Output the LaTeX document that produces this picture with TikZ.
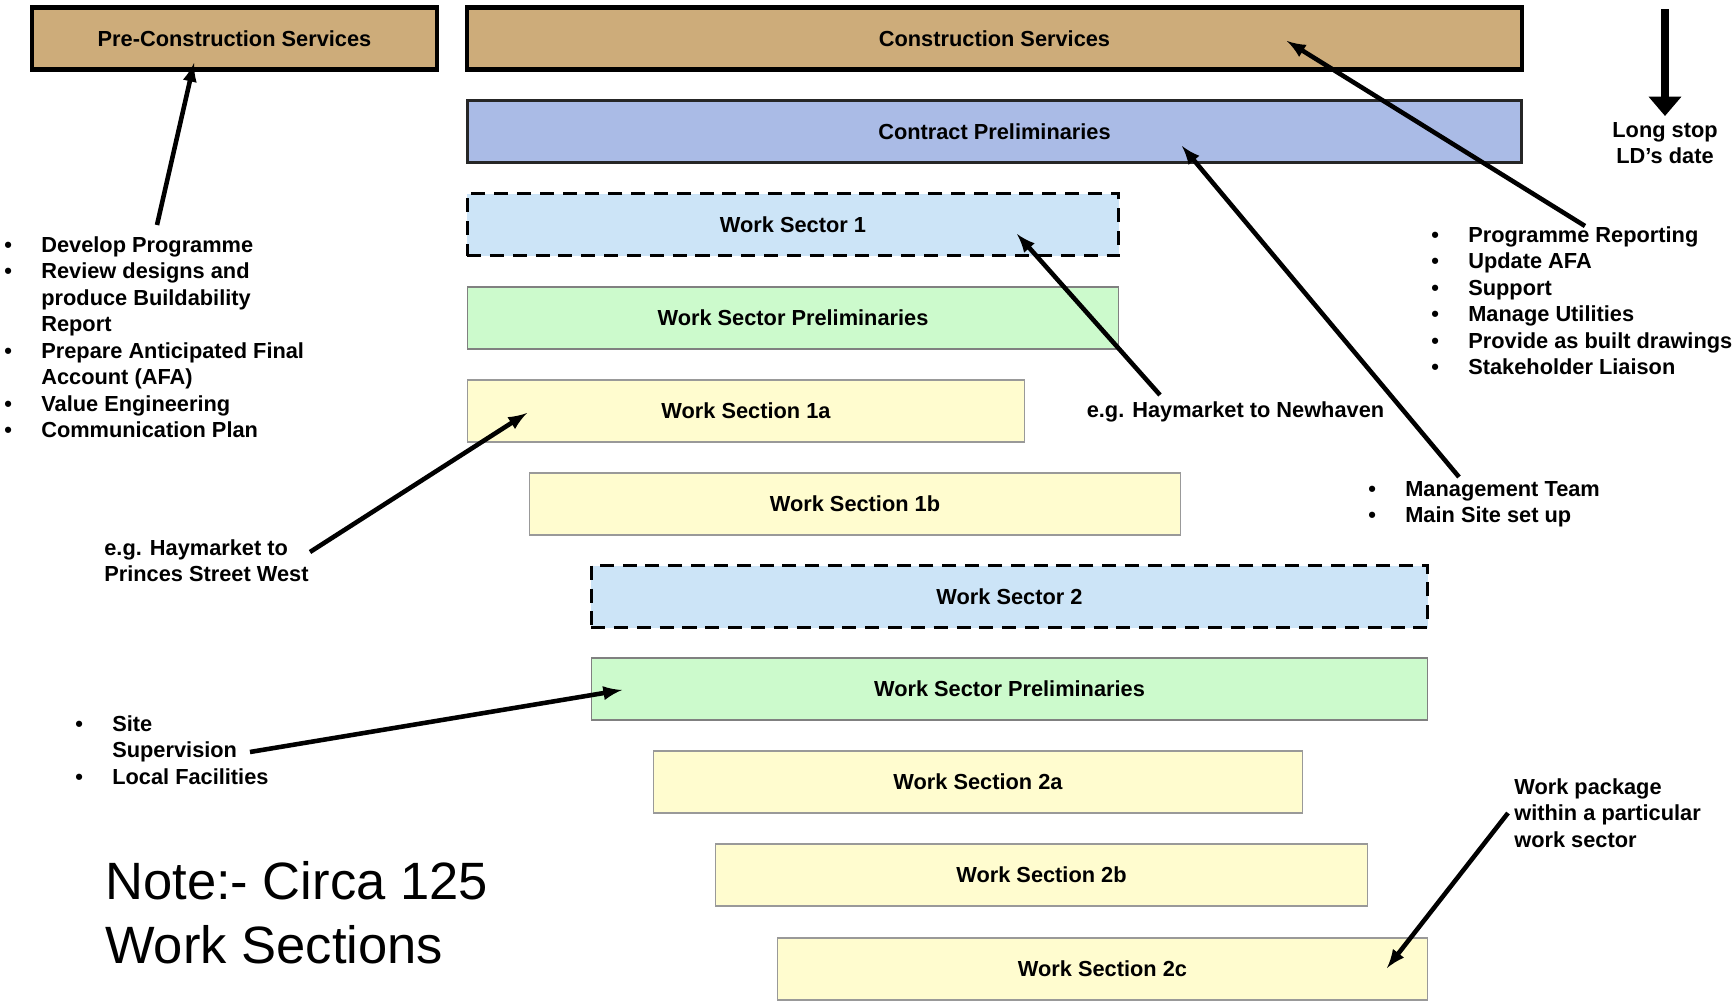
\documentclass[tikz,border=0pt]{standalone}
\usepackage{fontspec}
\setmainfont{Liberation Sans}
\usepackage{xcolor}
\usetikzlibrary{positioning, arrows.meta}

\definecolor{csbrown}{RGB}{205,172,122}
\definecolor{cpblue}{RGB}{170,187,230}
\definecolor{wsblue}{RGB}{204,228,247}
\definecolor{wsgreen}{RGB}{204,250,204}
\definecolor{wsyellow}{RGB}{255,252,207}

\newcommand{\bul}{\makebox[0.74cm][l]{\textbullet}}
\newcommand{\ind}{\hspace*{0.74cm}}

\begin{document}
\begin{tikzpicture}[x=0.02cm, y=-0.02cm,
	bar/.style={minimum height=1.24cm, inner sep=0pt, font=\fontsize{12.4}{15.1}\selectfont\bfseries},
	topbar/.style={bar, draw=black, line width=2.3pt, fill=csbrown},
	sectorbar/.style={bar, draw=black, line width=1.7pt, dash pattern=on 8pt off 5pt, fill=wsblue},
	prelbar/.style={bar, draw=gray, line width=0.6pt, fill=wsgreen},
	sectionbar/.style={bar, draw=gray!80, line width=0.6pt, fill=wsyellow},
	txt/.style={inner sep=0pt, align=left, font=\fontsize{12.4}{15.1}\selectfont\bfseries},
	pointer/.style={line width=2.6pt, -latex}]
	
	\useasboundingbox (0,0) rectangle (1732,1002);
	
	% barras de topo
	\node[topbar, minimum width=8.1cm] (precon) at (234.5,38.5) {Pre-Construction Services};
	\node[topbar, minimum width=21.1cm] (cs) at (994.5,38.5) {Construction Services};
	\node[bar, draw=black!85, line width=1.7pt, fill=cpblue, minimum width=21.1cm] (cp) at (994.5,131.5) {Contract Preliminaries};
	
	% sector 1
	\node[sectorbar, minimum width=13.04cm] (ws1) at (793,224.5) {Work Sector 1};
	\node[prelbar, minimum width=13.04cm] (wsp1) at (793,318) {Work Sector Preliminaries};
	\node[sectionbar, minimum width=11.16cm] (ws1a) at (746,411) {Work Section 1a};
	\node[sectionbar, minimum width=13.04cm] (ws1b) at (855,504) {Work Section 1b};
	
	% sector 2
	\node[sectorbar, minimum width=16.74cm] (ws2) at (1009.5,596.5) {Work Sector 2};
	\node[prelbar, minimum width=16.74cm] (wsp2) at (1009.5,689) {Work Sector Preliminaries};
	\node[sectionbar, minimum width=13.0cm] (ws2a) at (978,782) {Work Section 2a};
	\node[sectionbar, minimum width=13.06cm] (ws2b) at (1041.5,875) {Work Section 2b};
	\node[sectionbar, minimum width=13.02cm] (ws2c) at (1102.5,969) {Work Section 2c};
	
	% textos
	\node[txt, anchor=north west] (prelist) at (4,236) {\bul Develop Programme\\ \bul Review designs and\\ \ind produce Buildability\\ \ind Report\\ \bul Prepare Anticipated Final\\ \ind Account (AFA)\\ \bul Value Engineering\\ \bul Communication Plan};
	\node[txt, anchor=north west] (cslist) at (1431,226) {\bul Programme Reporting\\ \bul Update AFA\\ \bul Support\\ \bul Manage Utilities\\ \bul Provide as built drawings\\ \bul Stakeholder Liaison};
	\node[txt, anchor=north west] (cplist) at (1368,481) {\bul Management Team\\ \bul Main Site set up};
	\node[txt, anchor=north west] (sitelist) at (75,715) {\bul Site\\ \ind Supervision\\ \bul Local Facilities};
	\node[txt, anchor=base] (newhaven) at (1235.5,417) {e.g. Haymarket to Newhaven};
	\node[txt, anchor=north west] (princes) at (104,539) {e.g. Haymarket to\\Princes Street West};
	\node[txt, anchor=north west] (package) at (1514,778) {Work package\\within a particular\\work sector};
	\node[txt, align=center] (ldate) at (1665,143) {Long stop\\LD’s date};
	\node[inner sep=0pt, align=left, anchor=north west, font=\fontsize{29.9}{36.4}\selectfont] (note) at (105,861) {Note:- Circa 125\\Work Sections};
	
	% pontas das setas
	\coordinate (dpTail) at (157,225);
	\coordinate (pcTip) at (194,63);
	\coordinate (prTail) at (1585,226);
	\coordinate (csTip) at (1287,41);
	\coordinate (mtTail) at (1459,477);
	\coordinate (cpTip) at (1182,146);
	\coordinate (nhTail) at (1160,395);
	\coordinate (ws1Tip) at (1017,234);
	\coordinate (psTail) at (310,552);
	\coordinate (ws1aTip) at (527,413);
	\coordinate (ssTail) at (250,752);
	\coordinate (wsp2Tip) at (622,690);
	\coordinate (wpTail) at (1508,813);
	\coordinate (ws2cTip) at (1387,968);
	\coordinate (lsTop) at (1665,9);
	\coordinate (lsTip) at (1665,116);
	
	% setas
	\draw[pointer] (dpTail) -- (pcTip);
	\draw[pointer] (prTail) -- (csTip);
	\draw[pointer] (mtTail) -- (cpTip);
	\draw[pointer] (nhTail) -- (ws1Tip);
	\draw[pointer] (psTail) -- (ws1aTip);
	\draw[pointer] (ssTail) -- (wsp2Tip);
	\draw[pointer] (wpTail) -- (ws2cTip);
	\draw[line width=4.5pt, -{Triangle[length=11pt,width=18pt]}] (lsTop) -- (lsTip);
\end{tikzpicture}
\end{document}
